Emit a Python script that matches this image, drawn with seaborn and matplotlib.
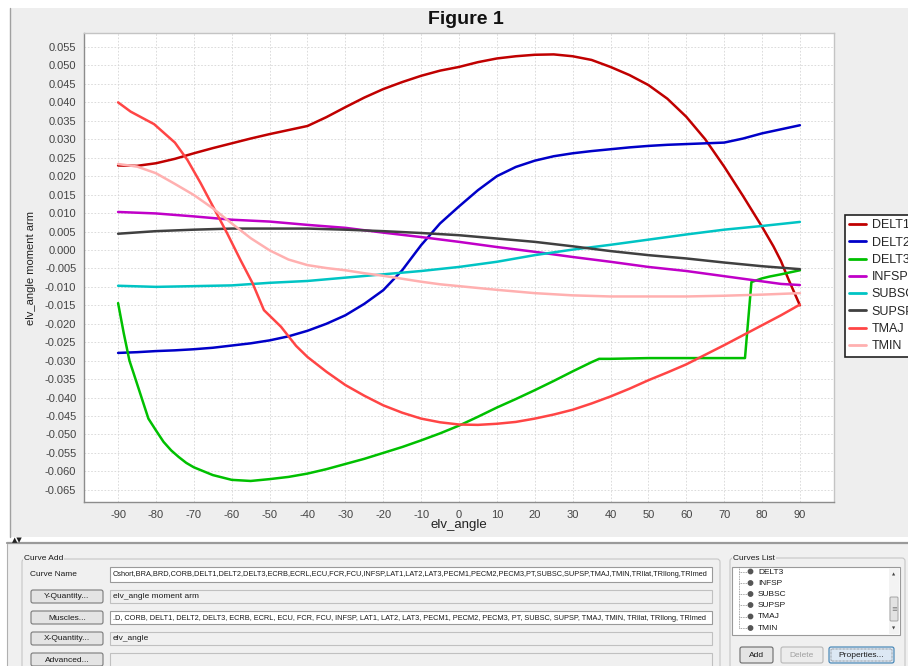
import numpy as np
import pandas as pd
import matplotlib
matplotlib.use("Agg")
import matplotlib.pyplot as plt
import seaborn as sns
from matplotlib.patches import Rectangle, FancyBboxPatch, Circle
from matplotlib.lines import Line2D

# ---------------------------------------------------------------------------
# Moment arm (m) about the elevation-angle coordinate vs. elv_angle (deg)
# ---------------------------------------------------------------------------
delt1_x = [-90, -85, -80, -75, -70, -65, -60, -55, -50, -45, -40, -35, -30, -25, -20,
           -15, -10, -5, 0, 5, 10, 15, 20, 25, 30, 35, 40, 45, 50, 55, 60, 65, 70, 75,
           80, 83, 85, 87, 90]
delt1_y = [0.0229, 0.0228, 0.0235, 0.0247, 0.0262, 0.0276, 0.0289, 0.0302, 0.0314,
           0.0325, 0.0336, 0.0360, 0.0387, 0.0413, 0.0436, 0.0455, 0.0472, 0.0486,
           0.0496, 0.0509, 0.0519, 0.0525, 0.0529, 0.0530, 0.0525, 0.0515, 0.0496,
           0.0474, 0.0447, 0.0410, 0.0361, 0.0300, 0.0226, 0.0146, 0.0063, 0.0010,
           -0.0030, -0.0080, -0.0150]

delt2_x = list(range(-90, 91, 5))
delt2_y = [-0.0279, -0.0277, -0.0274, -0.0272, -0.0269, -0.0265, -0.0259, -0.0253,
           -0.0245, -0.0234, -0.0219, -0.0200, -0.0177, -0.0146, -0.0109, -0.0055,
           0.0013, 0.0072, 0.0118, 0.0162, 0.0200, 0.0225, 0.0242, 0.0254, 0.0262,
           0.0268, 0.0273, 0.0278, 0.0282, 0.0285, 0.0287, 0.0289, 0.0291, 0.0302,
           0.0316, 0.0327, 0.0338]

delt3_x = [-90, -88.5, -87, -86, -84, -82, -80, -78, -76, -74, -72, -70, -65, -60, -55,
           -50, -45, -40, -35, -30, -25, -20, -15, -10, -5, 0, 5, 10, 15, 20, 25, 30,
           35, 37, 40, 50, 60, 70, 75.5, 77.2, 80, 82, 85, 90]
delt3_y = [-0.0144, -0.0226, -0.0300, -0.0331, -0.0394, -0.0457, -0.0489, -0.0520,
           -0.0543, -0.0561, -0.0577, -0.0589, -0.0610, -0.0623, -0.0626, -0.0621,
           -0.0615, -0.0606, -0.0594, -0.0580, -0.0566, -0.0550, -0.0534, -0.0516,
           -0.0497, -0.0476, -0.0452, -0.0427, -0.0404, -0.0380, -0.0355, -0.0329,
           -0.0304, -0.0295, -0.0295, -0.0293, -0.0293, -0.0293, -0.0293, -0.0087,
           -0.0077, -0.0072, -0.0066, -0.0055]

infsp_x = [-90, -80, -70, -60, -50, -40, -30, -20, -10, 0, 10, 20, 30, 40, 50, 60, 70,
           80, 85, 90]
infsp_y = [0.0103, 0.0099, 0.0091, 0.0082, 0.0077, 0.0068, 0.0060, 0.0047, 0.0035,
           0.0022, 0.0008, -0.0005, -0.0019, -0.0032, -0.0046, -0.0057, -0.0071,
           -0.0085, -0.0092, -0.0095]

subsc_x = list(range(-90, 91, 10))
subsc_y = [-0.0097, -0.0100, -0.0098, -0.0096, -0.0089, -0.0084, -0.0075, -0.0066,
           -0.0057, -0.0046, -0.0032, -0.0014, 0.0001, 0.0014, 0.0028, 0.0042, 0.0055,
           0.0065, 0.0076]

supsp_x = list(range(-90, 91, 10))
supsp_y = [0.0044, 0.0051, 0.0055, 0.0058, 0.0058, 0.0058, 0.0055, 0.0051, 0.0046,
           0.0040, 0.0031, 0.0022, 0.0010, -0.0003, -0.0014, -0.0023, -0.0034,
           -0.0044, -0.0052]

tmaj_x = [-90, -86.7, -80.5, -75, -71.7, -68.2, -64.7, -61.2, -57.7, -54.5, -51.5, -47,
          -43, -40, -35, -30, -25, -20, -15, -10, -5, 0, 5, 10, 15, 20, 25, 30, 35, 40,
          45, 50, 55, 60, 65, 70, 75, 80, 85, 90]
tmaj_y = [0.0400, 0.0375, 0.0341, 0.0291, 0.0244, 0.0181, 0.0113, 0.0045, -0.0027,
          -0.0090, -0.0163, -0.0208, -0.0260, -0.0290, -0.0330, -0.0366, -0.0395,
          -0.0421, -0.0441, -0.0457, -0.0467, -0.0473, -0.0474, -0.0471, -0.0466,
          -0.0457, -0.0446, -0.0433, -0.0416, -0.0397, -0.0376, -0.0353, -0.0332,
          -0.0310, -0.0284, -0.0258, -0.0231, -0.0204, -0.0177, -0.0148]

tmin_x = [-90, -85, -80, -75, -70, -65, -60, -55, -50, -45, -40, -35, -30, -25, -20,
          -15, -10, -5, 0, 10, 20, 30, 40, 50, 60, 70, 80, 90]
tmin_y = [0.0233, 0.0226, 0.0208, 0.0179, 0.0149, 0.0113, 0.0072, 0.0032, -0.0001,
          -0.0026, -0.0041, -0.0049, -0.0055, -0.0063, -0.0070, -0.0078, -0.0086,
          -0.0093, -0.0098, -0.0108, -0.0117, -0.0123, -0.0126, -0.0126, -0.0126,
          -0.0124, -0.0121, -0.0117]

muscles = ["DELT1", "DELT2", "DELT3", "INFSP", "SUBSC", "SUPSP", "TMAJ", "TMIN"]
series_x = [delt1_x, delt2_x, delt3_x, infsp_x, subsc_x, supsp_x, tmaj_x, tmin_x]
series_y = [delt1_y, delt2_y, delt3_y, infsp_y, subsc_y, supsp_y, tmaj_y, tmin_y]
colors = ["#c00000", "#0000c8", "#00c000", "#c000c8", "#00c4c4", "#404040",
          "#ff4545", "#ffb0b0"]

x_ticks = list(range(-90, 91, 10))
y_ticks = [round(v, 3) for v in np.arange(-0.065, 0.0551, 0.005)]

curve_list_items = ["DELT3", "INFSP", "SUBSC", "SUPSP", "TMAJ", "TMIN"]
curve_names = ("Cshort,BRA,BRD,CORB,DELT1,DELT2,DELT3,ECRB,ECRL,ECU,FCR,FCU,INFSP,LAT1,"
               "LAT2,LAT3,PECM1,PECM2,PECM3,PT,SUBSC,SUPSP,TMAJ,TMIN,TRIlat,TRIlong,TRImed")
muscle_field = (".D, CORB, DELT1, DELT2, DELT3, ECRB, ECRL, ECU, FCR, FCU, INFSP, LAT1, "
                "LAT2, LAT3, PECM1, PECM2, PECM3, PT, SUBSC, SUPSP, TMAJ, TMIN, TRIlat, "
                "TRIlong, TRImed")

df = pd.concat(
    [pd.DataFrame({"muscle": m, "elv_angle": xs, "moment_arm": ys})
     for m, xs, ys in zip(muscles, series_x, series_y)],
    ignore_index=True)

# ---------------------------------------------------------------------------
sns.set_style("whitegrid")
plt.rcParams["font.family"] = ["Liberation Sans", "DejaVu Sans"]
plt.rcParams["axes.unicode_minus"] = False

W, H = 908, 666
fig = plt.figure(figsize=(W / 100, H / 100), dpi=100, facecolor="white")
T = fig.dpi_scale_trans
GUI_FS = 6.0


def P(x, y):
    return (x / 100.0, (H - y) / 100.0)


def rect(x0, y0, x1, y1, fc, ec="none", lw=0.8, z=-5, **kw):
    a = Rectangle(P(x0, y1), (x1 - x0) / 100.0, (y1 - y0) / 100.0, transform=T,
                  facecolor=fc, edgecolor=ec, linewidth=lw, zorder=z, **kw)
    fig.add_artist(a)
    return a


def rbox(x0, y0, x1, y1, fc, ec, lw=0.8, r=2, z=-4, **kw):
    a = FancyBboxPatch(P(x0, y1), (x1 - x0) / 100.0, (y1 - y0) / 100.0,
                       boxstyle=f"round,pad=0,rounding_size={r / 100.0}", transform=T,
                       facecolor=fc, edgecolor=ec, linewidth=lw, zorder=z, **kw)
    fig.add_artist(a)
    return a


def line(xs, ys, color, lw=1.0, ls="-", z=-3):
    pts = [P(x, y) for x, y in zip(xs, ys)]
    fig.add_artist(Line2D([p[0] for p in pts], [p[1] for p in pts], transform=T,
                          color=color, lw=lw, ls=ls, zorder=z))


def text(x, y, s, size=GUI_FS, ha="left", va="center", color="#1a1a1a", z=-2, **kw):
    return fig.text(*P(x, y), s, transform=T, fontsize=size, ha=ha, va=va,
                    color=color, zorder=z, **kw)


# window panels
rect(10, 8, W + 5, 537, "#eeeeee")
line([10, 10], [8, 537], "#a0a0a0", lw=1.0)
text(12, 540, "\u25b2\u25bc", size=5, family="DejaVu Sans", color="#222")
line([7, W + 5], [543, 543], "#9a9a9a", lw=1.6)
rect(7, 544, W + 5, H + 5, "#f0f0f0")
line([7, 7], [544, H + 5], "#b0b0b0", lw=0.8)

# ---------------------------------------------------------------------------
ax = fig.add_axes([84 / W, 1 - 502 / H, 750 / W, 469 / H])
ax.set_facecolor("white")
palette = dict(zip(muscles, colors))
sns.lineplot(data=df, x="elv_angle", y="moment_arm", hue="muscle", hue_order=muscles,
             palette=palette, estimator=None, sort=False, linewidth=1.8, ax=ax)

ax.set_xlim(-99, 99)
ax.set_ylim(-0.0683, 0.0588)
ax.set_xticks(x_ticks)
ax.set_yticks(y_ticks)
ax.set_yticklabels([f"{(0.0 if abs(v) < 1e-9 else v):.3f}" for v in y_ticks])
ax.grid(True, color="#d6d6d6", linestyle=(0, (2, 2)), linewidth=0.6)
ax.tick_params(direction="out", length=2.5, width=0.8, color="#9a9a9a",
               labelcolor="#444444", labelsize=8, pad=3)
for side, sp in ax.spines.items():
    sp.set_color("#8c8c8c" if side in ("left", "bottom") else "#c4c4c4")
    sp.set_linewidth(1.0)
ax.set_xlabel("")
ax.set_ylabel("")

fig.text(465.5 / W, 1 - 19 / H, "Figure 1", ha="center", va="center", fontsize=14,
         fontweight="bold", color="#111111")
fig.text(459 / W, 1 - 525 / H, "elv_angle", ha="center", va="center", fontsize=9.5,
         color="#222222")
fig.text(31 / W, 1 - 268 / H, "elv_angle moment arm", ha="center", va="center",
         fontsize=8, rotation=90, color="#222222")

handles, labels = ax.get_legend_handles_labels()
leg = ax.legend(handles, labels, loc="upper left", bbox_to_anchor=(845 / W, 1 - 215 / H),
                bbox_transform=fig.transFigure, frameon=True, fancybox=False,
                edgecolor="#222222", facecolor="white", framealpha=1, fontsize=9,
                handlelength=1.35, handletextpad=0.45, labelspacing=0.42,
                borderpad=0.35, borderaxespad=0)
leg.get_frame().set_linewidth(1.2)
for h in leg.get_lines():
    h.set_linewidth(2.0)

# ---------------------------------------------------------------------------
# "Curve Add" group
rbox(22, 559, 720, H + 10, "none", "#c6c6c6", lw=0.8, r=3)
text(24, 559, "Curve Add", bbox=dict(fc="#f0f0f0", ec="none", pad=0.5))
text(30, 575, "Curve Name")

fields = [(567, 582, "white", "#9a9a9a", curve_names),
          (590, 603, "#f0f0f0", "#c0c0c0", "elv_angle moment arm"),
          (611, 624, "white", "#9a9a9a", muscle_field),
          (632, 645, "#f0f0f0", "#c0c0c0", "elv_angle"),
          (653, H + 5, "#f0f0f0", "#c0c0c0", "")]
renderer = fig.canvas.get_renderer()
for y0, y1, fc, ec, s in fields:
    rect(110, y0, 712, y1, fc, ec, lw=0.8, z=-4)
    if s:
        t = text(113, (y0 + y1) / 2 + 0.5, s)
        if len(s) > 60:
            w = t.get_window_extent(renderer).width
            t.set_fontsize(t.get_fontsize() * 594.0 / w)

buttons = [(590, 603, "Y-Quantity..."), (611, 624, "Muscles..."),
           (632, 645, "X-Quantity..."), (653, 666, "Advanced...")]
for y0, y1, s in buttons:
    rbox(31, y0, 103, y1, "#e4e4e4", "#7a7a7a", lw=0.8, r=2)
    text(67, (y0 + y1) / 2 + 0.5, s, ha="center")

# "Curves List" group
rbox(730, 558, 905, H + 10, "none", "#c6c6c6", lw=0.8, r=3)
text(733, 558, "Curves List", bbox=dict(fc="#f0f0f0", ec="none", pad=0.5))
rect(732, 567, 900, 635, "white", "#9a9a9a", lw=0.8, z=-4)
rect(889, 568, 899, 634, "#f3f3f3", "none", z=-3)
rbox(890, 597, 898, 621, "#e2e2e2", "#9a9a9a", lw=0.6, r=1, z=-2)
text(894, 609, "\u2261", size=5, ha="center", family="DejaVu Sans", color="#777")
text(894, 574, "\u25b2", size=3, ha="center", family="DejaVu Sans", color="#444")
text(894, 628, "\u25bc", size=3, ha="center", family="DejaVu Sans", color="#444")

item_y = [571.5, 583, 594, 605, 616.5, 628]
line([739, 739], [567, item_y[-1]], "#888888", lw=0.6, ls=(0, (1, 1)))
for yy, name in zip(item_y, curve_list_items):
    line([739, 747], [yy, yy], "#888888", lw=0.6, ls=(0, (1, 1)))
    fig.add_artist(Circle(P(750.5, yy), 0.022, transform=T, color="#555555", zorder=-2))
    text(758, yy + 0.5, name)

rbox(740, 647, 773, 663, "#e4e4e4", "#6a6a6a", lw=0.8, r=2)
text(756.5, 655.5, "Add", ha="center")
rbox(781, 647, 823, 663, "#ececec", "#b8b8b8", lw=0.8, r=2)
text(802, 655.5, "Delete", ha="center", color="#a0a0a0")
rbox(829, 647, 894, 663, "#dce8f4", "#3c7fb1", lw=0.8, r=2)
rbox(831, 649, 892, 661, "none", "#555555", lw=0.5, r=1, z=-3, linestyle=(0, (1, 1)))
text(861.5, 655.5, "Properties...", ha="center")

fig.savefig("out.png", dpi=100, facecolor="white")
